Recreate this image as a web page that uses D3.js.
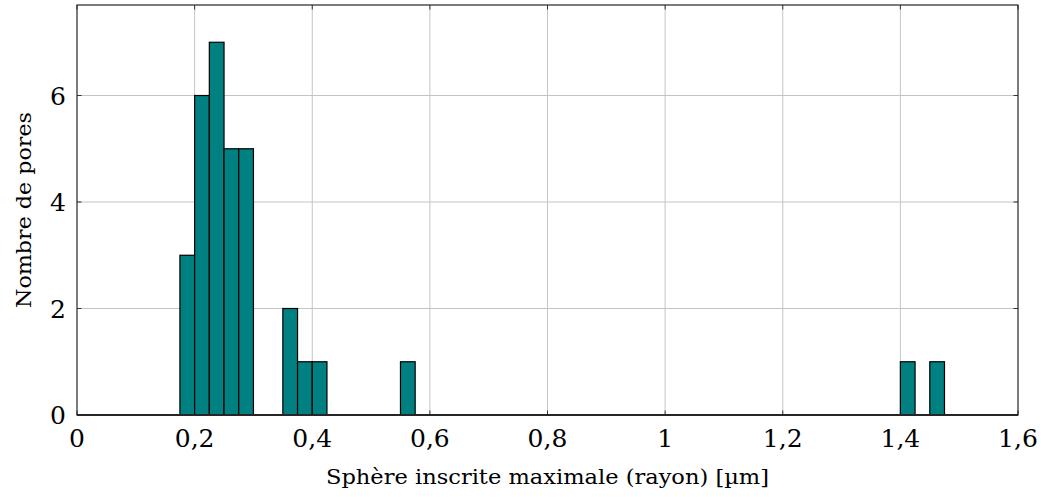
<!DOCTYPE html>
<html>
<head>
<meta charset="utf-8">
<script src="https://cdn.jsdelivr.net/npm/d3@7"></script>
<style>
  body { margin: 0; background: #fff; }
  svg text { font-family: "DejaVu Serif", serif; fill: #000; }
</style>
</head>
<body>
<div id="chart"></div>
<script>
"use strict";

// bins (left edge, in µm) and counts, bin width 0.025
var binStarts = [0.175, 0.2, 0.225, 0.25, 0.275, 0.35, 0.375, 0.4, 0.55, 1.4, 1.45];
var binCounts = [3, 6, 7, 5, 5, 2, 1, 1, 1, 1, 1];
var binWidth = 0.025;
var xTicks = [0, 0.2, 0.4, 0.6, 0.8, 1, 1.2, 1.4, 1.6];
var yTicks = [0, 2, 4, 6];

var width = 1041, height = 497;
var margin = {left: 77, right: 23, top: 5, bottom: 82};

var svg = d3.select("#chart").append("svg")
  .attr("width", width)
  .attr("height", height);

var x = d3.scaleLinear().domain([0, 1.6]).range([margin.left, width - margin.right]);
var y = d3.scaleLinear().domain([0, 7.7]).range([height - margin.bottom, margin.top]);

var fmt = function(d) { return String(d).replace(".", ","); };

// grid
svg.append("g").selectAll("line")
  .data(xTicks.slice(1, -1))
  .enter().append("line")
    .attr("x1", d => x(d)).attr("x2", d => x(d))
    .attr("y1", y(0)).attr("y2", y(7.7))
    .attr("stroke", "#c4c4c4").attr("stroke-width", 1);
svg.append("g").selectAll("line")
  .data(yTicks.slice(1))
  .enter().append("line")
    .attr("x1", x(0)).attr("x2", x(1.6))
    .attr("y1", d => y(d)).attr("y2", d => y(d))
    .attr("stroke", "#c4c4c4").attr("stroke-width", 1);

// inner ticks
var tk = 4.5;
var ticks = svg.append("g").attr("stroke", "#333").attr("stroke-width", 1);
xTicks.forEach(function(d) {
  ticks.append("line").attr("x1", x(d)).attr("x2", x(d)).attr("y1", y(0)).attr("y2", y(0) - tk);
  ticks.append("line").attr("x1", x(d)).attr("x2", x(d)).attr("y1", y(7.7)).attr("y2", y(7.7) + tk);
});
yTicks.forEach(function(d) {
  ticks.append("line").attr("x1", x(0)).attr("x2", x(0) + tk).attr("y1", y(d)).attr("y2", y(d));
  ticks.append("line").attr("x1", x(1.6)).attr("x2", x(1.6) - tk).attr("y1", y(d)).attr("y2", y(d));
});

// bars
svg.append("g").selectAll("rect")
  .data(binStarts)
  .enter().append("rect")
    .attr("x", d => x(d))
    .attr("width", d => x(d + binWidth) - x(d))
    .attr("y", (d, i) => y(binCounts[i]))
    .attr("height", (d, i) => y(0) - y(binCounts[i]))
    .attr("fill", "#008080")
    .attr("stroke", "#000")
    .attr("stroke-width", 1.2);

// frame
svg.append("rect")
  .attr("x", x(0)).attr("y", y(7.7))
  .attr("width", x(1.6) - x(0)).attr("height", y(0) - y(7.7))
  .attr("fill", "none").attr("stroke", "#262626").attr("stroke-width", 1.2);
svg.append("line")
  .attr("x1", x(0)).attr("x2", x(1.6)).attr("y1", y(0)).attr("y2", y(0))
  .attr("stroke", "#262626").attr("stroke-width", 2.2);

// tick labels
svg.append("g").selectAll("text")
  .data(xTicks)
  .enter().append("text")
    .attr("x", d => x(d))
    .attr("y", y(0) + 32)
    .attr("text-anchor", "middle")
    .style("font-size", "25px")
    .text(fmt);
svg.append("g").selectAll("text")
  .data(yTicks)
  .enter().append("text")
    .attr("x", x(0) - 11)
    .attr("y", d => y(d) + 9)
    .attr("text-anchor", "end")
    .style("font-size", "25px")
    .text(fmt);

// axis titles
svg.append("text")
  .attr("x", (x(0) + x(1.6)) / 2)
  .attr("y", 484)
  .attr("text-anchor", "middle")
  .style("font-size", "21px")
  .attr("textLength", 443)
  .attr("lengthAdjust", "spacingAndGlyphs")
  .text("Sphère inscrite maximale (rayon) [µm]");
svg.append("text")
  .attr("transform", "translate(31," + (y(3.85)) + ") rotate(-90)")
  .attr("text-anchor", "middle")
  .style("font-size", "21px")
  .attr("textLength", 196)
  .attr("lengthAdjust", "spacingAndGlyphs")
  .text("Nombre de pores");
</script>
</body>
</html>
